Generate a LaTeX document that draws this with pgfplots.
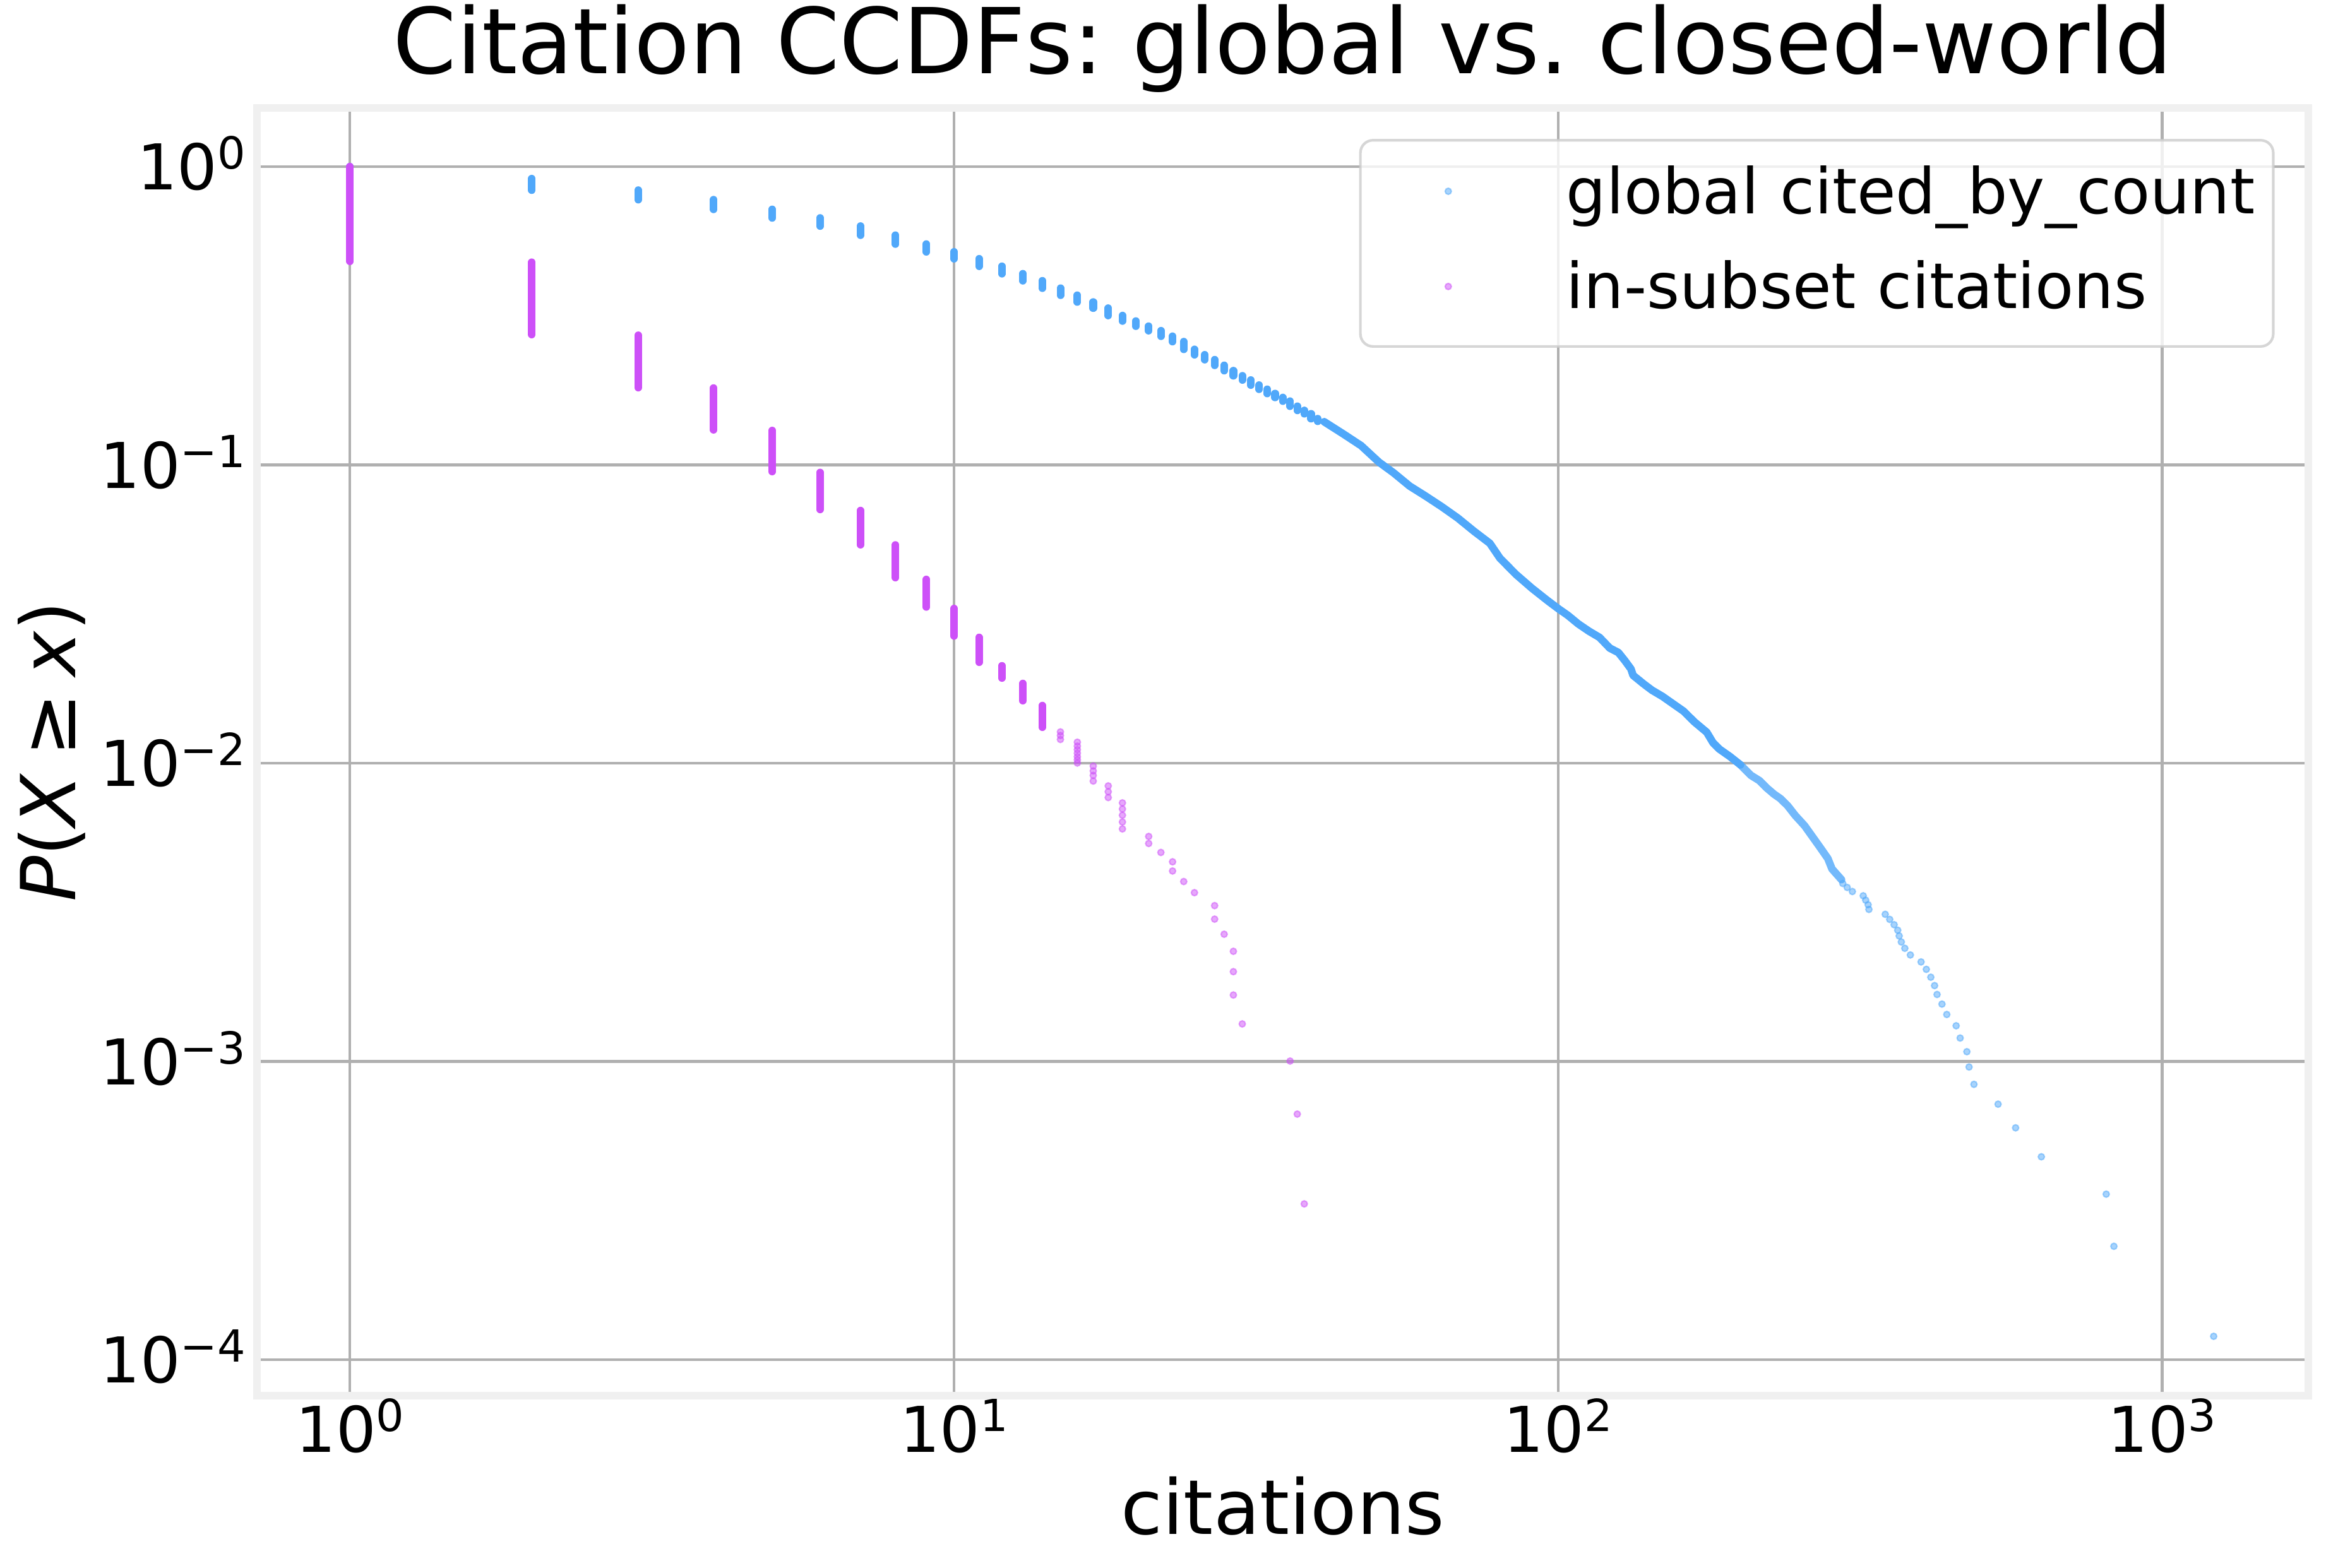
\documentclass[border=0pt]{standalone}
\usepackage{fontspec}
\setmainfont{DejaVu Sans}
\usepackage{pgfplots}
\pgfplotsset{compat=1.18}

\definecolor{cblue}{RGB}{80,168,250}
\definecolor{cmag}{RGB}{205,80,248}
\definecolor{gridc}{RGB}{176,176,176}
\definecolor{framec}{RGB}{240,240,240}
\definecolor{legc}{RGB}{204,204,204}

\newcommand{\tl}[1]{10\raisebox{0.33em}{\fontsize{16.8bp}{16.8bp}\selectfont #1}}

\begin{document}
\frenchspacing
\begin{tikzpicture}
\path[use as bounding box] (-97.8bp,-65.64bp) rectangle (786.36bp,530.52bp);
\begin{axis}[
  at={(0,0)}, anchor=south west,
  scale only axis, width=779.64bp, height=489.6bp,
  xmode=log, ymode=log,
  xmin=0.7023, xmax=1746, ymin=7.594e-5, ymax=1.577,
  xtick={1,10,100,1000},
  xticklabels={\tl{0},\tl{1},\tl{2},\tl{3}},
  ytick={0.0001,0.001,0.01,0.1,1},
  yticklabels={\tl{−4},\tl{−3},\tl{−2},\tl{−1},\tl{0}},
  xminorticks=false, yminorticks=false,
  major tick length=0pt,
  xmajorgrids, ymajorgrids,
  major grid style={draw=gridc, line width=1bp},
  axis line style={draw=framec, line width=2.88bp, line cap=rect},
  tick label style={font=\fontsize{24bp}{28.8bp}\selectfont},
  xticklabel style={anchor=base, inner sep=0pt, yshift=-21.48bp},
  yticklabel style={anchor=base east, inner sep=0pt, xshift=-4.2bp, yshift=-8.85bp},
  title={Citation CCDFs: global vs. closed-world},
  title style={at={(axis description cs:0.5,1.01409)}, anchor=base, yshift=0pt, inner sep=0pt, font=\fontsize{34.56bp}{41bp}\selectfont},
  xlabel={citations},
  xlabel style={at={(axis description cs:0.5,-0.10764)}, anchor=base, inner sep=0pt, font=\fontsize{28.8bp}{34bp}\selectfont},
  ylabel={\textit{P}(\textit{X}\hspace{0.22em}≥\hspace{0.22em}\textit{x})},
  ylabel style={at={(axis description cs:-0.0885,0.5)}, anchor=base, inner sep=0pt, font=\fontsize{28.8bp}{34bp}\selectfont},
  legend style={
    at={(axis description cs:0.98353,0.97569)}, anchor=north east,
    draw=legc, draw opacity=0.8, line width=1bp,
    fill=white, fill opacity=0.8, text opacity=1,
    rounded corners=4.8bp,
    inner xsep=0pt, inner ysep=0pt,
    font=\fontsize{24bp}{28.8bp}\selectfont,
    row sep=-6bp, column sep=0pt,
    cells={anchor=base west},
    nodes={inner sep=0pt, anchor=base west, text width=268.7bp, text depth=0pt},
  },
  legend image code/.code={
    \path[draw=none, fill=none] (-33.4bp,-14.4bp) rectangle (44.9bp,27.8bp);
    \draw[#1, mark repeat=1] plot coordinates {(0bp,8.4bp)};
  },
]

% ---------- global cited_by_count ----------
% dense columns (many papers with the same count): from P(X>=x) down to P(X>x)
\addplot[forget plot, draw=cblue, line width=2.9bp, line cap=round, mark=none, unbounded coords=jump] coordinates {
(1,1.0) (1,0.9116) (2,nan)
(2,0.9116) (2,0.834) (3,nan)
(3,0.834) (3,0.775) (4,nan)
(4,0.775) (4,0.719) (5,nan)
(5,0.719) (5,0.673) (6,nan)
(6,0.673) (6,0.632) (7,nan)
(7,0.632) (7,0.589) (8,nan)
(8,0.589) (8,0.550) (9,nan)
(9,0.550) (9,0.518) (10,nan)
(10,0.518) (10,0.491) (11,nan)
(11,0.491) (11,0.4634) (12,nan)
(12,0.4634) (12,0.4375) (13,nan)
(13,0.4375) (13,0.4143) (14,nan)
(14,0.4143) (14,0.3913) (15,nan)
(15,0.3913) (15,0.3706) (16,nan)
(16,0.3706) (16,0.3517) (17,nan)
(17,0.3517) (17,0.3354) (18,nan)
(18,0.3354) (18,0.3168) (19,nan)
(19,0.3168) (19,0.3036) (20,nan)
(20,0.3036) (20,0.2918) (21,nan)
(21,0.2918) (21,0.2818) (22,nan)
(22,0.2818) (22,0.2700) (23,nan)
(23,0.2700) (23,0.2590) (24,nan)
(24,0.2590) (24,0.2440) (25,nan)
(25,0.2440) (25,0.2340) (26,nan)
(26,0.2340) (26,0.2253) (27,nan)
(27,0.2253) (27,0.2157) (28,nan)
(28,0.2157) (28,0.2070) (29,nan)
(29,0.2070) (29,0.1990) (30,nan)
(30,0.1990) (30,0.1926) (31,nan)
(31,0.1926) (31,0.1852) (32,nan)
(32,0.1852) (32,0.1793) (33,nan)
(33,0.1793) (33,0.1735) (34,nan)
(34,0.1735) (34,0.1683) (35,nan)
(35,0.1683) (35,0.1636) (36,nan)
(36,0.1636) (36,0.1573) (37,nan)
(37,0.1573) (37,0.1523) (38,nan)
(38,0.1523) (38,0.1484) (39,nan)
(39,0.1484) (39,0.1429) (40,nan)
(40,0.1429) (40,0.1400)
};
% continuous band (consecutive counts overlap)
\addplot[forget plot, draw=cblue, line width=2.9bp, line cap=round, line join=round, mark=none] coordinates {
(41,0.1395) (44.1,0.1270) (47.2,0.1160) (50.5,0.1022) (53.4,0.0941)
(56.8,0.0849) (60.3,0.0787) (64.2,0.0724) (68.2,0.0664) (72.6,0.0599)
(77.1,0.0546) (80.1,0.0487) (85.1,0.0430) (90.5,0.0386) (96.2,0.0350)
(100,0.0330) (103.8,0.0313) (108.0,0.0293) (112.5,0.0277) (117.1,0.0264)
(121.8,0.0243) (125.8,0.0235) (128.9,0.0221) (132.0,0.0207) (133.1,0.0197)
(138.5,0.01845) (143.0,0.01757) (148.9,0.01674) (155.0,0.01581) (161.4,0.01493)
(168.0,0.01377) (176.2,0.01270) (180.5,0.01171) (184.9,0.01115) (192.5,0.01053)
(200.4,0.00987)
};
\addplot[forget plot, draw=cblue, draw opacity=0.8, line width=2.9bp, line cap=round, line join=round, mark=none] coordinates {
(200.4,0.00987) (208.6,0.00910) (215.4,0.00874) (221.5,0.00826) (227.8,0.00787)
(233.3,0.00761) (240.0,0.00719) (246.9,0.00668) (255.9,0.00617) (264.3,0.00563)
(271.8,0.00520) (279.6,0.00479) (284.1,0.00442) (294.5,0.00407)
};
% sparse tail
\addplot[color=cblue, only marks, mark=*, mark size=1.2bp,
  mark options={draw=cblue, fill=cblue, draw opacity=0.5, fill opacity=0.5, line width=0.5bp}] coordinates {
(296,0.003952) (301,0.003832)
(307,0.003713) (320,0.003593) (323,0.003473) (326,0.003353) (327,0.003234)
(348,0.003114) (354,0.002994) (360,0.002874) (365,0.002754) (367,0.002635)
(370,0.002515) (375,0.002395) (383,0.002275) (399,0.002156) (407,0.002036)
(414,0.001916) (420,0.001796) (424,0.001677) (432,0.001557) (440,0.001437)
(456,0.001317) (463,0.001198) (475,0.001078) (479,0.000958) (488,0.000838)
(535,0.000719) (572,0.000599) (631,0.000479) (808,0.000359) (832,0.000240)
(1217,0.0001198)
};
\addlegendentry{global cited\_by\_count}

% ---------- in-subset citations ----------
\addplot[forget plot, draw=cmag, line width=2.9bp, line cap=round, mark=none, unbounded coords=jump] coordinates {
(1,1.0) (1,0.4815) (2,nan)
(2,0.478) (2,0.2735) (3,nan)
(3,0.272) (3,0.1816) (4,nan)
(4,0.181) (4,0.1311) (5,nan)
(5,0.1304) (5,0.0950) (6,nan)
(6,0.0943) (6,0.0709) (7,nan)
(7,0.0703) (7,0.0540) (8,nan)
(8,0.0539) (8,0.0419) (9,nan)
(9,0.0413) (9,0.0334) (10,nan)
(10,0.0330) (10,0.0267) (11,nan)
(11,0.0264) (11,0.0218) (12,nan)
(12,0.0212) (12,0.0193) (13,nan)
(13,0.0185) (13,0.0162) (14,nan)
(14,0.0156) (14,0.0132)
};
\addplot[color=cmag, only marks, mark=*, mark size=1.2bp,
  mark options={draw=cmag, fill=cmag, draw opacity=0.5, fill opacity=0.5, line width=0.5bp}] coordinates {
(15,0.01273) (15,0.01238) (15,0.01201)
(16,0.01176) (16,0.01141) (16,0.01110) (16,0.01080) (16,0.01051) (16,0.01026) (16,0.01001)
(17,0.00978) (17,0.00942) (17,0.00910) (17,0.00871)
(18,0.00839) (18,0.00802) (18,0.00767)
(19,0.00736) (19,0.00702) (19,0.00669) (19,0.00635) (19,0.00602)
(21,0.00568) (21,0.00538)
(22,0.00502)
(23,0.00467) (23,0.00435)
(24,0.00401)
(25,0.00368)
(27,0.00333) (27,0.00300)
(28,0.00267)
(29,0.00234) (29,0.00200) (29,0.00167)
(30,0.001336)
(36,0.001003)
(37,0.000666)
(38,0.000333)
};
\addlegendentry{in-subset citations}
\end{axis}
\end{tikzpicture}
\end{document}
